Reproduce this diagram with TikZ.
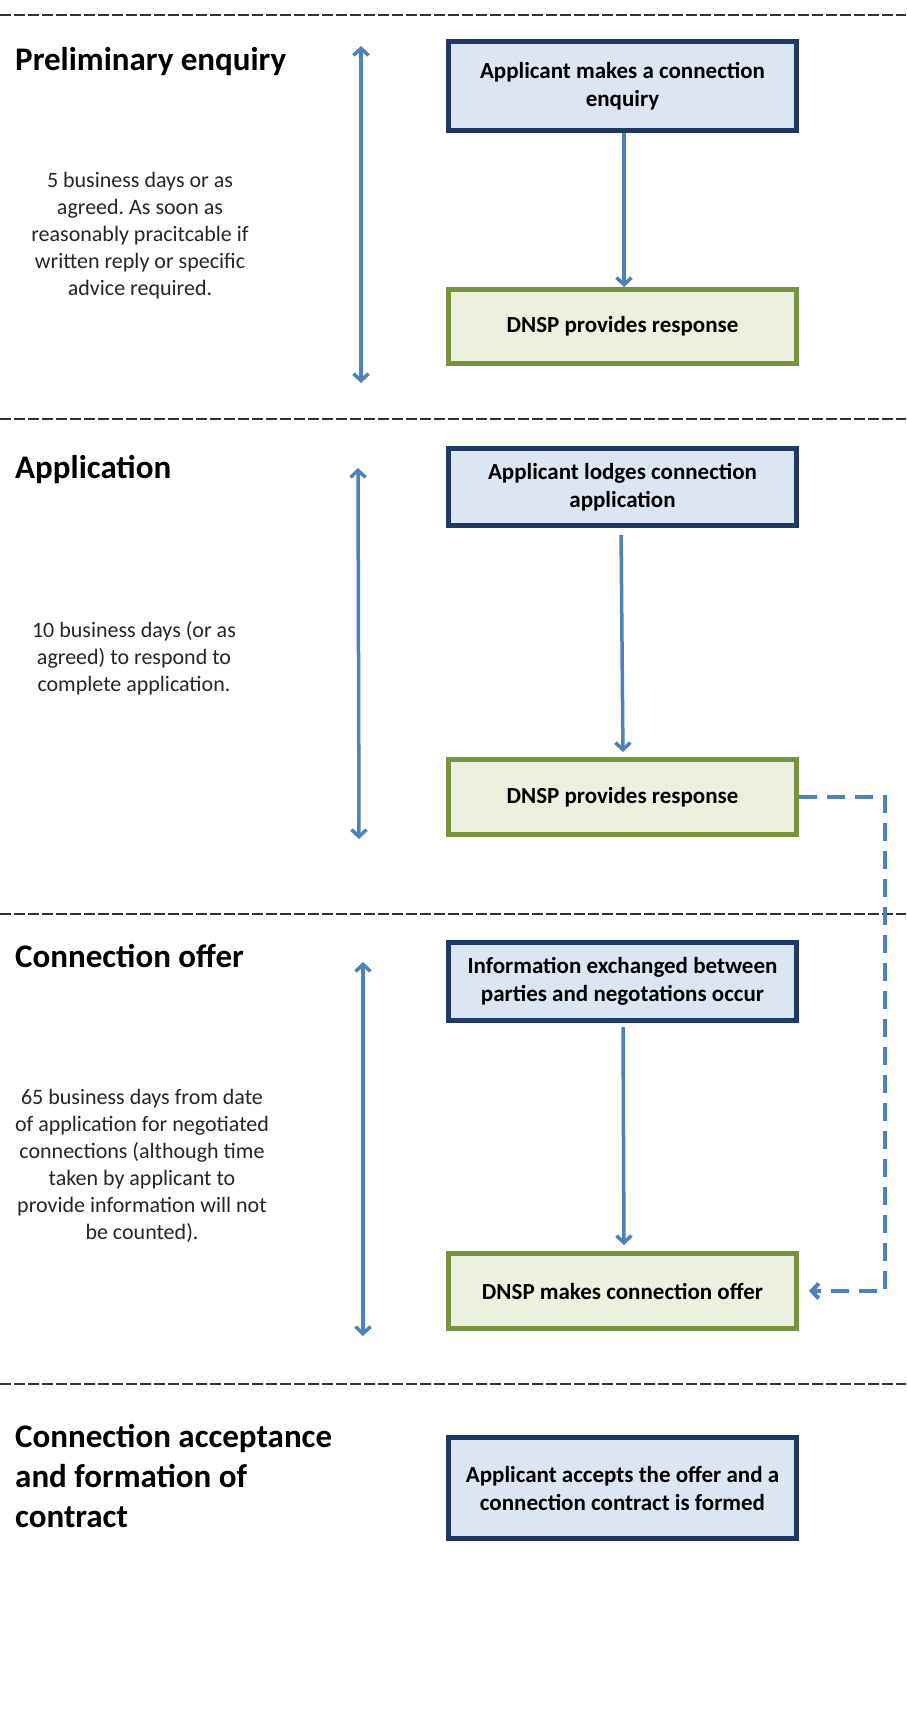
\documentclass[tikz,border=0pt]{standalone}
\usepackage{fontspec}
\setmainfont{Carlito}
\usetikzlibrary{arrows.meta}
\definecolor{navy}{HTML}{1F3864}
\definecolor{lblue}{HTML}{DCE6F2}
\definecolor{lgreen}{HTML}{EBF1DE}
\definecolor{dgreen}{HTML}{77933C}
\definecolor{arrowblue}{HTML}{4F81BD}
\definecolor{txtgray}{HTML}{262626}
\definecolor{divgray}{HTML}{333333}
\begin{document}
\frenchspacing
\begin{tikzpicture}[x=1pt,y=-1pt,
  boxbase/.style={line width=5pt, minimum width=348pt, align=center, inner sep=0pt,
    font=\bfseries\fontsize{23}{28}\selectfont},
  bluebox/.style={boxbase, draw=navy, fill=lblue},
  greenbox/.style={boxbase, draw=dgreen, fill=lgreen},
  heading/.style={anchor=west, align=left, inner sep=0pt, font=\bfseries\fontsize{33}{40}\selectfont},
  note/.style={align=center, inner sep=0pt, text=txtgray, font=\fontsize{22}{27}\selectfont},
  divider/.style={draw=divgray, line width=2.5pt, dash pattern=on 11pt off 3pt},
  tipV/.tip={Straight Barb[length=7pt,width=15pt]},
  flow/.style={draw=arrowblue, line width=3.5pt, -tipV},
  span/.style={draw=arrowblue, line width=3.5pt, tipV-tipV},
  feedback/.style={draw=arrowblue, line width=4pt, dash pattern=on 18pt off 10pt, -tipV}
]
\path[fill=white, use as bounding box] (0,0) rectangle (906,1714);

% dividers
\draw[divider] (0,15) -- (906,15);
\draw[divider] (0,419) -- (906,419);
\draw[divider] (0,914) -- (906,914);
\draw[divider] (0,1384) -- (906,1384);

% headings
\node[heading] (h1) at (15,62) {Preliminary enquiry};
\node[heading] (h2) at (15,469) {Application};
\node[heading] (h3) at (15,956) {Connection offer};
\node[heading] (h4) at (15,1476) {Connection acceptance\\and formation of\\contract};

% notes
\node[note] (n1) at (140,236) {5 business days or as\\agreed. As soon as\\reasonably pracitcable if\\written reply or specific\\advice required.};
\node[note] (n2) at (134,658) {10 business days (or as\\agreed) to respond to\\complete application.};
\node[note] (n3) at (142,1166) {65 business days from date\\of application for negotiated\\connections (although time\\taken by applicant to\\provide information will not\\be counted).};

% boxes
\node[bluebox, minimum height=89pt] (b1) at (622.5,86) {Applicant makes a connection\\enquiry};
\node[greenbox, minimum height=74pt] (b2) at (622.5,326.5) {DNSP provides response};
\node[bluebox, minimum height=77pt] (b3) at (622.5,487) {Applicant lodges connection\\application};
\node[greenbox, minimum height=75pt] (b4) at (622.5,797) {DNSP provides response};
\node[bluebox, minimum height=78pt] (b5) at (622.5,981.5) {Information exchanged between\\parties and negotations occur};
\node[greenbox, minimum height=75pt] (b6) at (622.5,1291) {DNSP makes connection offer};
\node[bluebox, minimum height=101pt] (b7) at (622.5,1488) {Applicant accepts the offer and a\\connection contract is formed};

% flow arrows
\draw[flow] (b1.south -| 624,0) -- (b2.north -| 624,0);
\draw[flow, shorten <=7pt, shorten >=5pt] (b3.south -| 621,0) -- (b4.north -| 623,0);
\draw[flow, shorten <=4pt, shorten >=6pt] (b5.south -| 623,0) -- (b6.north -| 624,0);

% feedback dashed
\coordinate (fb1) at (885,797);
\coordinate (fb2) at (885,1291);
\draw[feedback, shorten >=10pt] (b4.east) -- (fb1) -- (fb2) -- (b6.east);

% span arrows
\coordinate (s1a) at (361,46);
\coordinate (s1b) at (361,383);
\coordinate (s2a) at (358,468);
\coordinate (s2b) at (359,839);
\coordinate (s3a) at (363,962);
\coordinate (s3b) at (363,1336);
\draw[span] (s1a) -- (s1b);
\draw[span] (s2a) -- (s2b);
\draw[span] (s3a) -- (s3b);
\end{tikzpicture}
\end{document}
